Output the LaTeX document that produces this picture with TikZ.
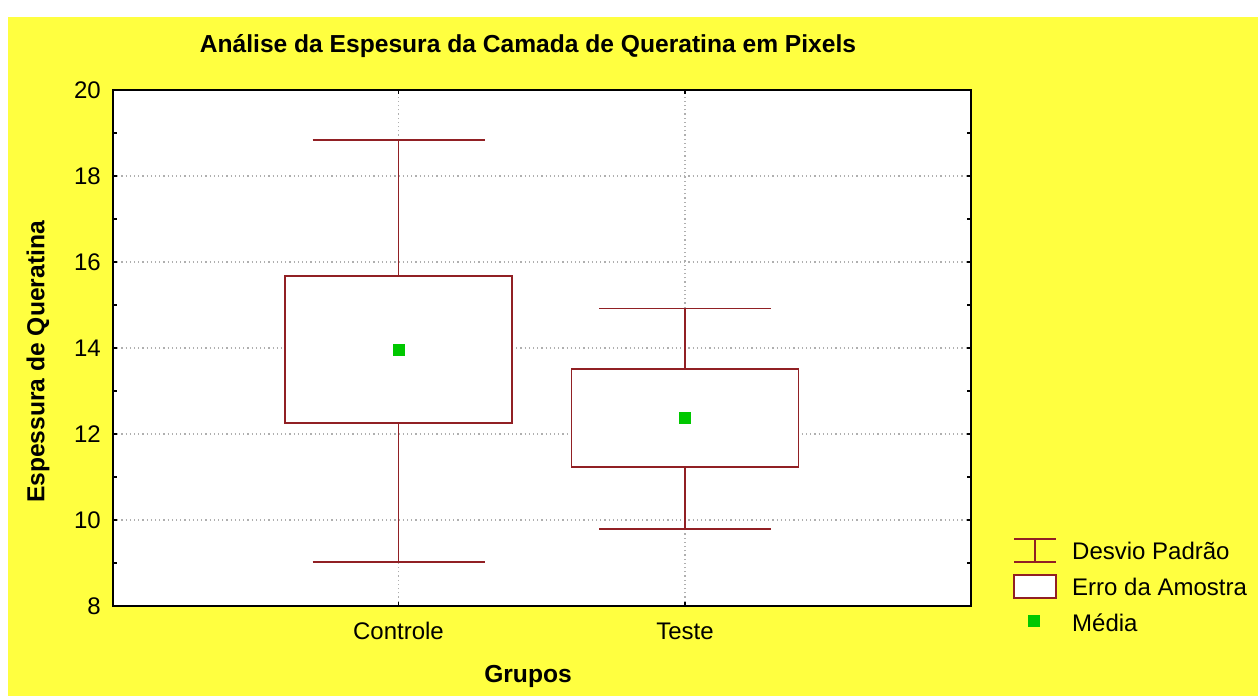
\documentclass[tikz,border=0pt]{standalone}
\usepackage{fontspec}
\setmainfont{Liberation Sans}
\definecolor{bgyellow}{RGB}{255,255,64}
\definecolor{boxred}{RGB}{145,32,36}
\definecolor{meangreen}{RGB}{0,200,0}
\definecolor{gridgray}{RGB}{175,175,175}

\begin{document}
\begin{tikzpicture}[x=1bp,y=1bp]

\tikzset{txt/.style = {font=\fontsize{24bp}{28bp}\selectfont,inner sep=0pt}}
\tikzset{bold/.style = {inner sep=0pt,font=\fontsize{24.6bp}{28bp}\selectfont\bfseries}}
\tikzset{errbox/.style = {shape=rectangle,draw=boxred,fill=white,line width=1.5bp,inner sep=0pt}}
\tikzset{whisker/.style = {draw=boxred,line width=1.5bp}}
\tikzset{mean/.style = {shape=rectangle,fill=meangreen,minimum size=12bp,inner sep=0pt}}
\tikzset{gridline/.style = {gridgray,line width=1.2bp,dash pattern=on 1.2bp off 3bp}}
\tikzset{tickmark/.style = {line width=1.2bp}}
% background
\useasboundingbox (0,0) rectangle (1258,696);
\fill[bgyellow] (8,0) rectangle (1258,679);
% titles
\node[bold] (title) at (528,650) {Análise da Espesura da Camada de Queratina em Pixels};
\node[bold] (xlab) at (528,20) {Grupos};
\node[bold,rotate=90] (ylab) at (38,334) {Espessura de Queratina};
\node[txt] (ctrllab) at (398.5,65) {Controle};
\node[txt] (testlab) at (685,65) {Teste};
% plot area, y in data units
\begin{scope}[y=43bp,yshift=-254bp]
\fill[white] (113,8) rectangle (971,20);
\foreach \v in {10,12,...,18}
  \draw[gridline] (113,\v) -- (971,\v);
\foreach \x in {398.5,685}
  \draw[gridline] (\x,8) -- (\x,20);
\foreach \v in {8,10,...,20}
  \node[txt,anchor=east] (ytick\v) at (101,\v) {\v};
\foreach \v in {9,...,19}{
  \draw[tickmark] (113,\v) -- (117,\v);
  \draw[tickmark] (971,\v) -- (967,\v);
}
\foreach \x in {398.5,685}{
  \draw[tickmark] (\x,8) -- ++(0,4bp);
  \draw[tickmark] (\x,20) -- ++(0,-4bp);
}
% boxes
\coordinate (ctrltop) at (398.5,18.84);
\coordinate (ctrlbot) at (398.5,9.02);
\coordinate (testtop) at (685,14.92);
\coordinate (testbot) at (685,9.79);
\node[errbox,minimum width=227bp,minimum height=147bp] (ctrl) at (398.5,13.96) {};
\node[errbox,minimum width=227bp,minimum height=98bp] (test) at (685,12.37) {};
\draw[whisker] (ctrl.north) -- (ctrltop);
\draw[whisker] (ctrl.south) -- (ctrlbot);
\draw[whisker] ([xshift=-86bp]ctrltop) -- ([xshift=86bp]ctrltop);
\draw[whisker] ([xshift=-86bp]ctrlbot) -- ([xshift=86bp]ctrlbot);
\draw[whisker] (test.north) -- (testtop);
\draw[whisker] (test.south) -- (testbot);
\draw[whisker] ([xshift=-86bp]testtop) -- ([xshift=86bp]testtop);
\draw[whisker] ([xshift=-86bp]testbot) -- ([xshift=86bp]testbot);
\node[mean] (ctrlmean) at (398.5,13.95) {};
\node[mean] (testmean) at (685,12.37) {};
% frame
\draw[line width=1.5bp] (113,8) rectangle (971,20);
\end{scope}
% legend
\coordinate (sdtop) at (1035,157);
\coordinate (sdbot) at (1035,134);
\draw[whisker] (sdtop) -- (sdbot);
\draw[whisker] ([xshift=-21bp]sdtop) -- ([xshift=21bp]sdtop);
\draw[whisker] ([xshift=-21bp]sdbot) -- ([xshift=21bp]sdbot);
\node[errbox,minimum width=42bp,minimum height=23bp] (legbox) at (1035,109.5) {};
\node[mean] (legmean) at (1034,75) {};
\node[txt,anchor=west] (sdlab) at (1072,145) {Desvio Padrão};
\node[txt,anchor=west] (boxlab) at (1072,109) {Erro da Amostra};
\node[txt,anchor=west] (meanlab) at (1072,73) {Média};
\end{tikzpicture}
\end{document}
